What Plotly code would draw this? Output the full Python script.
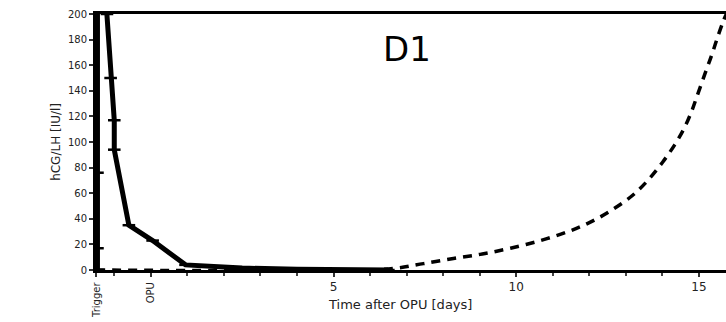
import plotly.graph_objects as go

# Solid curve (measured hCG/LH after trigger)
solid_days = [-1.46, -1.46, -1.46, -1.46, -1.3, -1.2, -1.1, -1.0, -1.0, -0.6, 0.05, 0.95, 2.5, 4.0, 6.5]
solid_vals = [0, 17, 76, 260, 240, 200, 150, 117, 94, 35, 23, 4, 1.5, 0.5, 0]

# Dashed curve (model / endogenous rise)
dash_days = [-1.5, 6.0, 6.75, 7.46, 8.28, 9.07, 9.84, 10.66, 11.42, 12.0, 12.57, 13.17,
             13.6, 14.0, 14.34, 14.6, 14.8, 14.95, 15.16, 15.35, 15.5, 15.66, 15.75]
dash_vals = [0, 0, 1.5, 5, 9, 12.5, 17, 23, 30, 37, 46, 58,
             70, 84, 98, 111, 124, 136, 153, 168, 181, 194, 200]

x_tickvals = [-1.5, 0, 5, 10, 15]
x_ticktext = ["", "", "5", "10", "15"]
rot_labels = ["Trigger", "OPU"]
rot_pos = [-1.5, 0]
y_tickvals = [0, 20, 40, 60, 80, 100, 120, 140, 160, 180, 200]
y_ticktext = ["0", "20", "40", "60", "80", "100", "120", "140", "160", "180", "200"]

FONT = "DejaVu Sans"

fig = go.Figure()
fig.add_trace(go.Scatter(
    x=dash_days, y=dash_vals, mode="lines",
    line=dict(color="black", width=3.5, dash="9px,7px", shape="spline", smoothing=1),
    showlegend=False))
fig.add_trace(go.Scatter(
    x=solid_days, y=solid_vals, mode="lines+markers",
    line=dict(color="black", width=5),
    marker=dict(symbol="line-ew", size=9, line=dict(color="black", width=2.5)),
    showlegend=False))

for lab, pos in zip(rot_labels, rot_pos):
    fig.add_annotation(x=pos, y=0, xref="x", yref="paper", text=lab,
                       textangle=-90, showarrow=False, yanchor="top",
                       yshift=-10, font=dict(family=FONT, size=10, color="#222"))

fig.add_annotation(x=0.483, y=-0.135, xref="paper", yref="paper",
                   text="Time after OPU [days]", showarrow=False, yanchor="middle",
                   font=dict(family=FONT, size=13, color="#222"))
fig.add_annotation(x=-0.078, y=0.5, xref="paper", yref="paper",
                   text="hCG/LH [IU/l]", textangle=-90, showarrow=False,
                   font=dict(family=FONT, size=12, color="#222"))
fig.add_annotation(x=0.494, y=0.95, xref="paper", yref="paper",
                   text="D1", showarrow=False,
                   font=dict(family=FONT, size=34, color="black"))

fig.update_layout(
    width=726, height=322,
    margin=dict(l=96, r=0, t=14, b=52),
    paper_bgcolor="white", plot_bgcolor="white",
    font=dict(family=FONT, color="#222"),
    xaxis=dict(range=[-1.5, 15.74], tickvals=x_tickvals, ticktext=x_ticktext,
               showgrid=False, zeroline=False, showline=True, linewidth=3,
               linecolor="black", mirror=True, ticks="outside", ticklen=4,
               tickwidth=2, tickcolor="#333", tickfont=dict(size=12),
               minor=dict(dtick=1, tick0=0, ticks="outside", ticklen=3,
                          tickwidth=2, tickcolor="#444")),
    yaxis=dict(range=[0, 200], tickvals=y_tickvals, ticktext=y_ticktext,
               showgrid=False, zeroline=False, showline=True, linewidth=3,
               linecolor="black", ticks="outside", ticklen=4, tickwidth=2,
               tickcolor="#333", tickfont=dict(size=10)),
)

fig.write_html("out.html")
